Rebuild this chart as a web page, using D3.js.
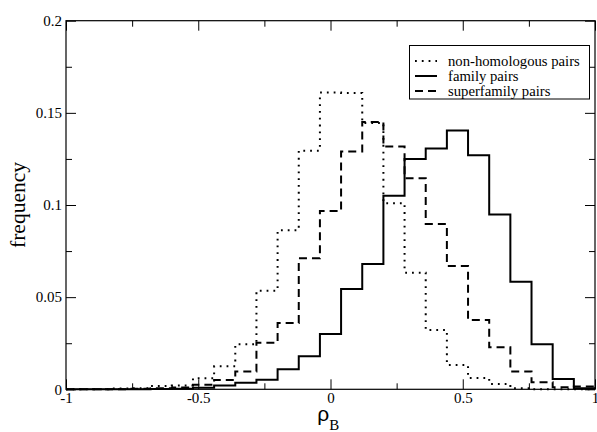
<!DOCTYPE html>
<html>
<head>
<meta charset="utf-8">
<script src="https://cdn.jsdelivr.net/npm/d3@7"></script>
<style>
  body { margin: 0; background: #fff; }
</style>
</head>
<body>
<svg id="chart" width="597" height="432"></svg>
<script>
// ---- data ----
const binEdges = [-1.00, -0.92, -0.84, -0.76, -0.68, -0.60, -0.52, -0.44, -0.36, -0.28, -0.20, -0.12, -0.04,
                  0.04, 0.12, 0.20, 0.28, 0.36, 0.44, 0.52, 0.60, 0.68, 0.76, 0.84, 0.92, 1.00];
const nonHomologous = [0, 0, 0.0004, 0.0006, 0.0018, 0.0020, 0.0060, 0.0125, 0.0244, 0.0535, 0.0863, 0.1295, 0.1610,
                       0.1608, 0.1445, 0.1010, 0.0633, 0.0322, 0.0132, 0.0061, 0.0029, 0.0006, 0, 0, 0];
const family = [0, 0, 0, 0, 0.0001, 0.0003, 0.0008, 0.0020, 0.0035, 0.0052, 0.0109, 0.0180, 0.0300,
                0.0544, 0.0680, 0.1050, 0.1250, 0.1306, 0.1404, 0.1270, 0.0948, 0.0584, 0.0244, 0.0056, 0.0006];
const superfamily = [0, 0, 0, 0.0003, 0.0006, 0.0010, 0.0025, 0.0050, 0.0096, 0.0253, 0.0360, 0.0711, 0.0968,
                     0.1290, 0.1450, 0.1317, 0.1145, 0.0897, 0.0669, 0.0376, 0.0228, 0.0096, 0.0038, 0.0011, 0.0015];
const seriesNames = ["non-homologous pairs", "family pairs", "superfamily pairs"];
const xTickValues = [-1, -0.5, 0, 0.5, 1];
const xTickLabels = ["-1", "-0.5", "0", "0.5", "1"];
const xMinorValues = [-0.75, -0.25, 0.25, 0.75];
const yTickValues = [0, 0.05, 0.1, 0.15, 0.2];
const yTickLabels = ["0", "0.05", "0.1", "0.15", "0.2"];
const yMinorValues = [0.025, 0.075, 0.125, 0.175];

// ---- layout ----
const SERIF = "'Liberation Serif', 'Times New Roman', serif";
const W = 597, H = 432;
const margin = { left: 66, right: 2, top: 20.7, bottom: 42.7 };
const svg = d3.select("#chart");
const x = d3.scaleLinear().domain([-1, 1]).range([margin.left, W - margin.right]);
const y = d3.scaleLinear().domain([0, 0.2]).range([H - margin.bottom, margin.top]);

const styles = [
  { data: nonHomologous, dash: "1.8,5", width: 2 },
  { data: family, dash: null, width: 2 },
  { data: superfamily, dash: "8,5", width: 2 }
];

// step curves
const line = d3.line().x(d => x(d[0])).y(d => y(d[1])).curve(d3.curveStepAfter);
styles.forEach(s => {
  const pts = s.data.map((v, i) => [binEdges[i], v]);
  pts.push([binEdges[binEdges.length - 1], s.data[s.data.length - 1]]);
  svg.append("path")
    .attr("d", line(pts))
    .attr("fill", "none")
    .attr("stroke", "#000")
    .attr("stroke-width", s.width)
    .attr("stroke-dasharray", s.dash)
    .attr("stroke-linecap", "butt");
});

// axes (ticks inward, on all four sides)
const y0 = y(0), y1 = y(0.2), x0 = x(-1), x1 = x(1);
function addAxis(axis, tx, ty) {
  const g = svg.append("g").attr("transform", `translate(${tx},${ty})`).call(axis)
    .attr("font-family", SERIF).attr("font-size", 15);
  g.select(".domain").remove();
  g.selectAll("line").attr("stroke", "#000").attr("stroke-width", 1);
  g.selectAll("text").attr("fill", "#000");
  return g;
}
// bottom
const gb = addAxis(d3.axisBottom(x).tickValues(xTickValues).tickSize(-10)
  .tickFormat((d, i) => xTickLabels[i]).tickPadding(4), 0, y0);
gb.selectAll("text").attr("dy", "0.71em").attr("y", 3);
addAxis(d3.axisBottom(x).tickValues(xMinorValues).tickSize(-6).tickFormat(""), 0, y0);
// top
addAxis(d3.axisTop(x).tickValues(xTickValues).tickSize(-10).tickFormat(""), 0, y1);
addAxis(d3.axisTop(x).tickValues(xMinorValues).tickSize(-6).tickFormat(""), 0, y1);
// left
const gl = addAxis(d3.axisLeft(y).tickValues(yTickValues).tickSize(-10)
  .tickFormat((d, i) => yTickLabels[i]).tickPadding(4), x0, 0);
gl.selectAll("text").attr("x", -4);
addAxis(d3.axisLeft(y).tickValues(yMinorValues).tickSize(-6).tickFormat(""), x0, 0);
// right
addAxis(d3.axisRight(y).tickValues(yTickValues).tickSize(-10).tickFormat(""), x1, 0);
addAxis(d3.axisRight(y).tickValues(yMinorValues).tickSize(-6).tickFormat(""), x1, 0);

// frame
svg.append("rect")
  .attr("x", x0).attr("y", y1).attr("width", x1 - x0).attr("height", y0 - y1)
  .attr("fill", "none").attr("stroke", "#000").attr("stroke-width", 1.2);

// axis titles
svg.append("text")
  .attr("transform", `translate(25,${(y0 + y1) / 2}) rotate(-90)`)
  .attr("text-anchor", "middle")
  .attr("font-family", SERIF)
  .attr("font-size", 21.5)
  .text("frequency");

const xt = svg.append("text").attr("x", x(-0.05)).attr("y", 421);
xt.append("tspan").attr("font-family", "'Liberation Sans', Arial, sans-serif").attr("font-size", 21).text("ρ");
xt.append("tspan").attr("font-family", SERIF).attr("font-size", 15).attr("dy", 9).text("B");

// legend
const lg = svg.append("g");
lg.append("rect").attr("x", 409.5).attr("y", 45.5).attr("width", 180).attr("height", 53.5)
  .attr("fill", "#fff").attr("stroke", "#000").attr("stroke-width", 1);
styles.forEach((s, i) => {
  const cy = 61 + i * 15;
  lg.append("line").attr("x1", 415).attr("x2", 437).attr("y1", cy).attr("y2", cy)
    .attr("stroke", "#000").attr("stroke-width", s.width).attr("stroke-dasharray", s.dash);
  lg.append("text").attr("x", 448).attr("y", cy + 5).attr("font-family", SERIF)
    .attr("font-size", 14.7).text(seriesNames[i]);
});
</script>
</body>
</html>
